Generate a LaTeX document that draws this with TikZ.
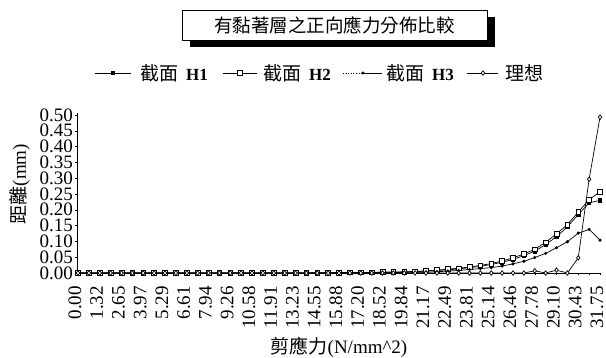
\documentclass[tikz,border=0pt]{standalone}
\usepackage{fontspec}
\setmainfont{Liberation Serif}
\newfontfamily\cjk{Noto Sans CJK TC}
\usetikzlibrary{plotmarks}
\tikzset{
  ticklab/.style={font=\fontsize{19}{19}\selectfont, inner sep=0pt},
  legtext/.style={font=\fontsize{19}{19}\selectfont, inner sep=0pt, anchor=west},
  serline/.style={line width=0.7pt, black},
  hone/.style={serline, mark=square*, mark size=1.7pt},
  htwo/.style={serline, mark=square*, mark size=2.4pt, mark options={fill=white}},
  hthree/.style={serline, mark=*, mark size=1.2pt},
  ideal/.style={serline, mark=diamond*, mark size=2.3pt, mark options={fill=white}},
}
\begin{document}
\begin{tikzpicture}[x=1pt,y=-1pt]
\useasboundingbox (0,0) rectangle (606,357);
\fill[white] (0,0) rectangle (606,357);
% title
\node[fill=black, minimum width=305pt, minimum height=30pt, inner sep=0pt] (titleshadow) at (342.5,32) {};
\node[draw, line width=0.8pt, fill=white, minimum width=305pt, minimum height=30pt, inner sep=0pt,
      font=\cjk\fontsize{18.5}{18.5}\selectfont] (title) at (334.5,25) {有黏著層之正向應力分佈比較};
% legend
\coordinate (la1) at (95,73); \coordinate (lb1) at (131,73);
\draw[serline] (la1) -- (lb1);
\draw[hone] plot coordinates {(113,73)};
\node[legtext] (lt1) at (140,73) {{\cjk 截面}\hspace{8pt}\textbf{\fontsize{17}{17}\selectfont H1}};
\coordinate (la2) at (223,73); \coordinate (lb2) at (257,73);
\draw[serline] (la2) -- (lb2);
\draw[htwo] plot coordinates {(240,73)};
\node[legtext] (lt2) at (263,73) {{\cjk 截面}\hspace{8pt}\textbf{\fontsize{17}{17}\selectfont H2}};
\coordinate (la3) at (343,73); \coordinate (lc3) at (363,73); \coordinate (lb3) at (382,73);
\draw[line width=0.6pt, dotted] (la3) -- (lc3);
\draw[serline] (lc3) -- (lb3);
\draw[hthree] plot coordinates {(363,73)};
\node[legtext] (lt3) at (386,73) {{\cjk 截面}\hspace{8pt}\textbf{\fontsize{17}{17}\selectfont H3}};
\coordinate (la4) at (467,73); \coordinate (lb4) at (498,73);
\draw[serline] (la4) -- (lb4);
\draw[ideal] plot coordinates {(483,73)};
\node[legtext] (lt4) at (505,73) {\cjk 理想};
% axes
\coordinate (ytop) at (77.5,113);
\coordinate (orig) at (77.5,273);
\coordinate (xend) at (601,273);
\draw[line width=0.6pt] (ytop) -- (orig) -- (xend);
\foreach \yv/\ytxt in {0/0.00,1/0.05,2/0.10,3/0.15,4/0.20,5/0.25,6/0.30,7/0.35,8/0.40,9/0.45,10/0.50}{
  \draw[line width=0.5pt] (74.5,273-15.8*\yv) -- (77.5,273-15.8*\yv);
  \node[ticklab, anchor=east] (yl\yv) at (73,273-15.8*\yv) {\ytxt};
}
\foreach \ci in {0,...,48}{
  \draw[line width=0.4pt] (78+10.875*\ci,273) -- (78+10.875*\ci,275);
}
\foreach \xtxt [count=\xk from 0] in {0.00,1.32,2.65,3.97,5.29,6.61,7.94,9.26,10.58,11.91,13.23,14.55,15.88,17.20,18.52,19.84,21.17,22.49,23.81,25.14,26.46,27.78,29.10,30.43,31.75}{
  \node[ticklab, rotate=90, anchor=east] (xl\xk) at (75+21.75*\xk,286) {\xtxt};
}
\node[font=\fontsize{19}{19}\selectfont, inner sep=0pt] (xlab) at (339,347) {{\cjk 剪應力}(N/mm\textasciicircum 2)};
\node[font=\fontsize{19}{19}\selectfont, inner sep=0pt, rotate=90] (ylab) at (20,184) {{\cjk 距離}(mm)};
% data
\begin{scope}[shift={(78,273)}, x=10.875pt, y=316pt]
\draw[hone] plot coordinates {(0,0) (1,0) (2,0) (3,0) (4,0) (5,0) (6,0) (7,0) (8,0) (9,0) (10,0) (11,0) (12,0) (13,0) (14,0) (15,0) (16,0) (17,0) (18,0) (19,0) (20,0) (21,0) (22,0) (23,0) (24,0.001) (25,0.001) (26,0.001) (27,0.001) (28,0.002) (29,0.002) (30,0.003) (31,0.004) (32,0.006) (33,0.008) (34,0.010) (35,0.013) (36,0.017) (37,0.021) (38,0.027) (39,0.034) (40,0.043) (41,0.055) (42,0.069) (43,0.090) (44,0.115) (45,0.146) (46,0.185) (47,0.222) (48,0.230)};
\draw[htwo] plot coordinates {(0,0) (1,0) (2,0) (3,0) (4,0) (5,0) (6,0) (7,0) (8,0) (9,0) (10,0) (11,0) (12,0) (13,0) (14,0) (15,0) (16,0) (17,0) (18,0) (19,0) (20,0) (21,0) (22,0.001) (23,0.001) (24,0.001) (25,0.002) (26,0.002) (27,0.002) (28,0.003) (29,0.003) (30,0.004) (31,0.005) (32,0.007) (33,0.009) (34,0.012) (35,0.015) (36,0.019) (37,0.024) (38,0.030) (39,0.038) (40,0.048) (41,0.060) (42,0.075) (43,0.097) (44,0.124) (45,0.153) (46,0.193) (47,0.232) (48,0.257)};
\draw[hthree] plot coordinates {(0,0) (1,0) (2,0) (3,0) (4,0) (5,0) (6,0) (7,0) (8,0) (9,0) (10,0) (11,0) (12,0) (13,0) (14,0) (15,0) (16,0) (17,0) (18,0) (19,0) (20,0) (21,0) (22,0) (23,0) (24,0) (25,0) (26,0.001) (27,0.001) (28,0.001) (29,0.001) (30,0.002) (31,0.002) (32,0.003) (33,0.004) (34,0.006) (35,0.008) (36,0.011) (37,0.014) (38,0.017) (39,0.022) (40,0.029) (41,0.037) (42,0.049) (43,0.062) (44,0.080) (45,0.099) (46,0.126) (47,0.138) (48,0.104)};
\draw[ideal] plot coordinates {(0,0) (1,0) (2,0) (3,0) (4,0) (5,0) (6,0) (7,0) (8,0) (9,0) (10,0) (11,0) (12,0) (13,0) (14,0) (15,0) (16,0) (17,0) (18,0) (19,0) (20,0) (21,0) (22,0) (23,0) (24,0) (25,0) (26,0) (27,0) (28,0) (29,0) (30,0) (31,0) (32,0) (33,0) (34,0) (35,0) (36,0) (37,0) (38,0) (39,0) (40,0) (41,0) (42,0.007) (43,0) (44,0.009) (45,0) (46,0.048) (47,0.297) (48,0.493)};
\end{scope}
\end{tikzpicture}
\end{document}
